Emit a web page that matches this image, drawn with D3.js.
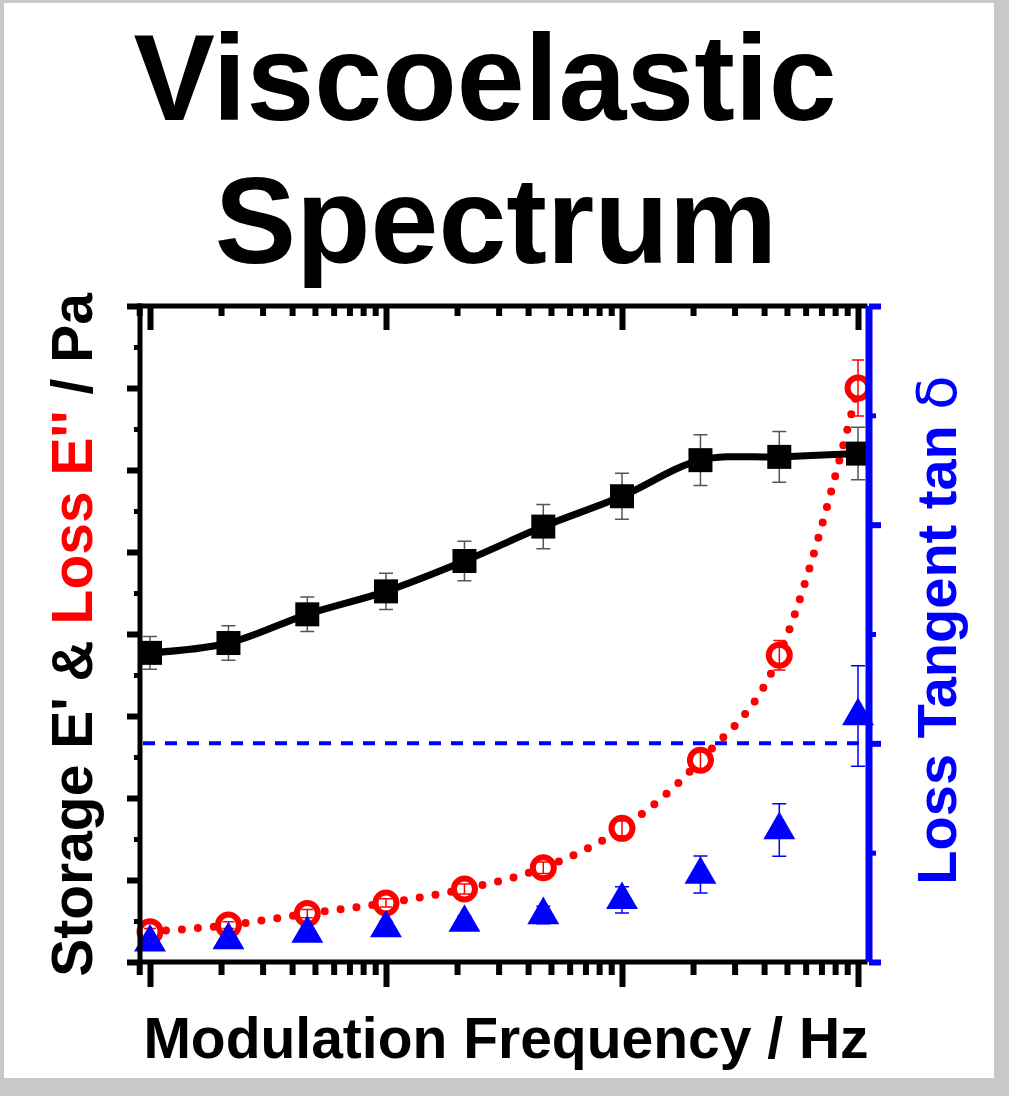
<!DOCTYPE html>
<html>
<head>
<meta charset="utf-8">
<script src="https://cdn.jsdelivr.net/npm/d3@7"></script>
<style>
  html, body { margin: 0; padding: 0; background: #c8c7ca; }
  svg { display: block; }
  text { font-family: 'Liberation Sans', Arial, Helvetica, sans-serif; font-weight: bold; }
</style>
</head>
<body>
<div id="chart"></div>
<script>
// modulation frequency (Hz), one point every third of a decade
const freqs = [0.1, 0.215, 0.464, 1, 2.15, 4.64, 10, 21.5, 46.4, 100];

// storage modulus E' (left axis, arbitrary units)
const storage = [3.77, 3.89, 4.24, 4.52, 4.89, 5.31, 5.68, 6.12, 6.16, 6.2];
const storageErr = [0.2, 0.21, 0.21, 0.22, 0.24, 0.27, 0.28, 0.31, 0.31, 0.32];

// loss modulus E'' (left axis)
const loss = [0.37, 0.45, 0.59, 0.72, 0.89, 1.15, 1.63, 2.46, 3.74, 7.0];
const lossErr = [0.04, 0.04, 0.05, 0.05, 0.06, 0.07, 0.09, 0.12, 0.18, 0.34];

// loss tangent tan delta (right axis)
const tanDelta = [0.09, 0.1, 0.13, 0.155, 0.18, 0.215, 0.284, 0.4, 0.604, 1.125];
const tanErr = [0.02, 0.02, 0.02, 0.03, 0.03, 0.04, 0.06, 0.085, 0.12, 0.23];

const xMajor = [0.1, 1, 10, 100];
const yLeftTicks = d3.range(0, 8.01, 0.5);
const yRightTicks = d3.range(0, 3.01, 0.5);

const width = 1009;
const height = 1096;
const box = { left: 140, right: 869, top: 306, bottom: 962 };

const svg = d3
  .select('#chart')
  .append('svg')
  .attr('width', width)
  .attr('height', height);

svg
  .append('rect')
  .attr('x', 4)
  .attr('y', 3)
  .attr('width', 990)
  .attr('height', 1075)
  .attr('fill', '#fff');

const x = d3.scaleLog().domain([0.1, 100]).range([150, 858]);
const yL = d3.scaleLinear().domain([0, 8]).range([box.bottom, box.top]);
const yR = d3.scaleLinear().domain([0, 3]).range([box.bottom, box.top]);

const xMinor = d3
  .range(-2, 2)
  .flatMap((e) => d3.range(2, 10).map((k) => +(k * Math.pow(10, e)).toFixed(4)))
  .filter((v) => x(v) >= box.left - 2 && v < 100);

const data = freqs.map((f, i) => ({
  f,
  s: storage[i],
  se: storageErr[i],
  l: loss[i],
  le: lossErr[i],
  t: tanDelta[i],
  te: tanErr[i]
}));

// title
const title = svg.append('g').attr('font-size', 122);
title.append('text').attr('x', 485).attr('y', 120).attr('text-anchor', 'middle').text('Viscoelastic');
title.append('text').attr('x', 496).attr('y', 263).attr('text-anchor', 'middle').text('Spectrum');

// ticks (no labels)
function ticks(gen, transform, color, w) {
  const g = svg.append('g').attr('transform', transform).call(gen);
  g.select('.domain').remove();
  g.selectAll('.tick text').remove();
  g.selectAll('.tick line').attr('stroke', color).attr('stroke-width', w);
  return g;
}

ticks(d3.axisBottom(x).tickValues(xMinor).tickSize(13).tickFormat(''), `translate(0,${box.bottom})`, '#000', 6);
ticks(d3.axisBottom(x).tickValues(xMajor).tickSize(25).tickFormat(''), `translate(0,${box.bottom})`, '#000', 6);
ticks(d3.axisTop(x).tickValues(xMinor).tickSize(-10).tickFormat(''), `translate(0,${box.top})`, '#000', 6);
ticks(d3.axisTop(x).tickValues(xMajor).tickSize(-24).tickFormat(''), `translate(0,${box.top})`, '#000', 6);

ticks(
  d3.axisLeft(yL).tickValues(yLeftTicks.filter((v) => v % 1 !== 0)).tickSize(6).tickFormat(''),
  `translate(${box.left},0)`, '#000', 5
);
ticks(
  d3.axisLeft(yL).tickValues(yLeftTicks.filter((v) => v % 1 === 0)).tickSize(13).tickFormat(''),
  `translate(${box.left},0)`, '#000', 6
);
ticks(
  d3.axisRight(yR).tickValues(yRightTicks.filter((v) => v % 1 !== 0)).tickSize(7).tickFormat(''),
  `translate(${box.right},0)`, '#0000ff', 5
);
ticks(
  d3.axisRight(yR).tickValues(yRightTicks.filter((v) => v % 1 === 0)).tickSize(12).tickFormat(''),
  `translate(${box.right},0)`, '#0000ff', 6
);

const plot = svg.append('g');

// tan delta = 1 reference
plot
  .append('line')
  .attr('x1', box.left + 3)
  .attr('x2', 862)
  .attr('y1', yR(1))
  .attr('y2', yR(1))
  .attr('stroke', '#0000ff')
  .attr('stroke-width', 4)
  .attr('stroke-dasharray', '12 10');

const storageLine = d3
  .line()
  .x((d) => x(d.f))
  .y((d) => yL(d.s))
  .curve(d3.curveCatmullRom.alpha(0.5));

const lossLine = d3
  .line()
  .x((d) => x(d.f))
  .y((d) => yL(d.l))
  .curve(d3.curveMonotoneX);

plot
  .append('path')
  .datum(data)
  .attr('fill', 'none')
  .attr('stroke', '#ff0000')
  .attr('stroke-width', 8)
  .attr('stroke-linecap', 'round')
  .attr('stroke-dasharray', '0 16')
  .attr('d', lossLine);

plot
  .append('path')
  .datum(data)
  .attr('fill', 'none')
  .attr('stroke', '#000')
  .attr('stroke-width', 7)
  .attr('d', storageLine);

function errorBars(g, yScale, val, err, color, cap) {
  const eb = g.append('g').attr('stroke', color).attr('stroke-width', 1.5).attr('fill', 'none');
  eb.selectAll('path')
    .data(data)
    .enter()
    .append('path')
    .attr('d', (d) => {
      const cx = x(d.f);
      const y0 = yScale(val(d) - err(d));
      const y1 = yScale(val(d) + err(d));
      return `M${cx},${y0}V${y1}M${cx - cap},${y0}H${cx + cap}M${cx - cap},${y1}H${cx + cap}`;
    });
}

// storage E'
errorBars(plot, yL, (d) => d.s, (d) => d.se, '#555', 7);
plot
  .append('g')
  .selectAll('rect')
  .data(data)
  .enter()
  .append('rect')
  .attr('x', (d) => x(d.f) - 12)
  .attr('y', (d) => yL(d.s) - 12)
  .attr('width', 24)
  .attr('height', 24)
  .attr('fill', '#000');

// loss E''
plot
  .append('g')
  .selectAll('circle')
  .data(data)
  .enter()
  .append('circle')
  .attr('cx', (d) => x(d.f))
  .attr('cy', (d) => yL(d.l))
  .attr('r', 10.5)
  .attr('fill', '#fff')
  .attr('stroke', '#ff0000')
  .attr('stroke-width', 6);
errorBars(plot, yL, (d) => d.l, (d) => d.le, '#ff0000', 6);

// tan delta
errorBars(plot, yR, (d) => d.t, (d) => d.te, '#0000ff', 7);
plot
  .append('g')
  .selectAll('path')
  .data(data)
  .enter()
  .append('path')
  .attr('transform', (d) => `translate(${x(d.f)},${yR(d.t)})`)
  .attr('d', d3.symbol(d3.symbolTriangle, 440))
  .attr('fill', '#0000ff');

// frame
const frame = svg.append('g').attr('stroke-linecap', 'square');
frame.append('line').attr('x1', box.left).attr('x2', box.right - 4).attr('y1', box.top).attr('y2', box.top)
  .attr('stroke', '#000').attr('stroke-width', 5);
frame.append('line').attr('x1', box.left).attr('x2', box.right - 4).attr('y1', box.bottom).attr('y2', box.bottom)
  .attr('stroke', '#000').attr('stroke-width', 5);
frame.append('line').attr('x1', box.left).attr('x2', box.left).attr('y1', box.top).attr('y2', box.bottom)
  .attr('stroke', '#000').attr('stroke-width', 5);
frame.append('line').attr('x1', box.right).attr('x2', box.right).attr('y1', box.top).attr('y2', box.bottom)
  .attr('stroke', '#0000ff').attr('stroke-width', 7).attr('stroke-linecap', 'butt');

// axis titles
svg
  .append('text')
  .attr('x', 506)
  .attr('y', 1058)
  .attr('text-anchor', 'middle')
  .attr('font-size', 57)
  .text('Modulation Frequency / Hz');

const yTitle = svg
  .append('text')
  .attr('transform', 'translate(92,635) rotate(-90)')
  .attr('text-anchor', 'middle')
  .attr('font-size', 57);
yTitle.append('tspan').text("Storage E' & ");
yTitle.append('tspan').attr('fill', '#ff0000').text("Loss E''");
yTitle.append('tspan').text(' / Pa');

const rTitle = svg
  .append('text')
  .attr('transform', 'translate(956,630) rotate(-90)')
  .attr('text-anchor', 'middle')
  .attr('font-size', 56)
  .attr('fill', '#0000ff');
rTitle.append('tspan').text('Loss Tangent tan ');
rTitle
  .append('tspan')
  .attr('font-family', "'DejaVu Sans', sans-serif")
  .attr('font-weight', 'normal')
  .text('δ');
</script>
</body>
</html>
